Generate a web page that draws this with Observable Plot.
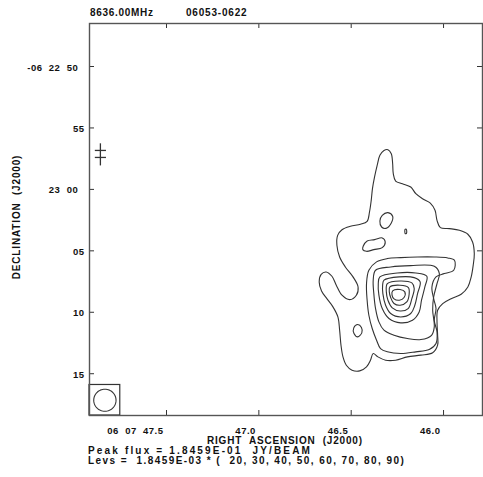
<!DOCTYPE html>
<html><head><meta charset="utf-8">
<script src="https://cdn.jsdelivr.net/npm/d3@7"></script>
<script src="https://cdn.jsdelivr.net/npm/@observablehq/plot@0.6"></script>
<style>
html,body{margin:0;padding:0;background:#fff;}
#wrap{position:relative;width:483px;height:477px;overflow:hidden;font-family:"Liberation Sans",Arial,sans-serif;font-weight:bold;color:#111;}
#wrap svg{position:absolute;left:0;top:0;}
.t{position:absolute;white-space:pre;font-size:10px;line-height:10px;}
</style></head><body><div id="wrap"></div>
<script>
// ---------------- data ----------------
const frequency = "8636.00MHz";
const source = "06053-0622";
const raTicks = [47.5, 47.0, 46.5, 46.0];                 // seconds of 06h 07m
const raTickLabels = ["06  07  47.5", "47.0", "46.5", "46.0"];
const decTicks = [50, 55, 60, 65, 70, 75];                // arcsec south of -06 22 00
const decTickLabels = ["-06  22  50\u00a0\u00a0", "55", "23  00\u00a0\u00a0", "05", "10", "15"];
const raRange = [47.917, 45.789];
const decRange = [46.5, 78.4];
const peakRA = 46.25;       // 06 07 46.25
const peakDec = 68.56;      // -06 23 08.56
const peakFlux = 1.8459E-01;
const levBase = 1.8459E-03;
const levels = [20, 30, 40, 50, 60, 70, 80, 90];
const beamFWHM = 1.8;       // arcsec
const starRA = 47.858, starDec = 57.15;

// contour rings: [east offset, north offset] in arcsec from the peak
const lev20_outer = [[0.76,11.79],[0.49,11.46],[0.38,10.65],[0.33,9.84],[0.14,9.24],[-0.41,9.02],[-1.08,8.75],[-1.49,8.21],[-2.03,7.80],[-2.66,7.45],[-3.04,6.86],[-3.20,6.04],[-3.47,5.45],[-4.20,5.37],[-5.01,5.23],[-5.69,4.91],[-6.07,4.28],[-6.21,3.33],[-6.12,2.38],[-5.96,1.44],[-5.69,0.62],[-5.15,0.03],[-4.34,-0.33],[-3.66,-0.73],[-3.25,-1.27],[-3.20,-2.22],[-3.25,-3.31],[-3.25,-4.12],[-2.85,-4.74],[-1.90,-4.93],[-0.81,-5.07],[0.14,-5.34],[0.95,-5.34],[1.57,-5.07],[1.95,-4.80],[2.17,-5.34],[2.49,-5.88],[3.04,-6.21],[3.66,-6.15],[4.12,-5.75],[4.39,-5.07],[4.55,-4.12],[4.66,-2.90],[4.80,-1.82],[5.20,-1.00],[5.69,-0.33],[6.12,0.30],[6.31,1.03],[6.15,1.65],[5.75,1.84],[5.28,1.49],[4.93,0.76],[4.47,-0.05],[3.85,-0.41],[3.31,-0.05],[3.17,0.62],[3.58,1.44],[4.20,2.25],[4.66,3.06],[4.88,4.01],[4.82,4.82],[4.47,5.28],[3.79,5.56],[2.98,5.72],[2.44,5.96],[2.25,6.72],[2.11,7.67],[2.01,8.62],[1.84,9.57],[1.63,10.51],[1.41,11.33],[1.08,11.73]];
const lev20_blobA = [[1.22,6.45],[0.76,6.67],[0.38,6.37],[0.49,5.83],[0.92,5.39],[1.27,5.50],[1.41,5.99]];
const lev20_dot = [[-0.62,5.30],[-0.72,5.30],[-0.74,5.00],[-0.64,4.95]];
const lev20_blobB = [[2.76,3.93],[2.44,4.36],[1.84,4.47],[1.22,4.61],[0.98,4.28],[1.22,3.82],[1.90,3.66],[2.49,3.52],[2.79,3.66]];
const lev20_blobC = [[3.20,-2.44],[2.90,-2.68],[2.87,-3.12],[3.20,-3.44],[3.50,-3.17],[3.52,-2.71]];
const lev30 = [[1.68,2.66],[0.81,2.93],[-0.27,3.01],[-1.63,3.06],[-2.98,3.06],[-4.07,2.98],[-4.61,2.79],[-4.55,1.98],[-3.79,1.71],[-3.12,1.44],[-2.79,0.62],[-2.93,-0.33],[-3.12,-1.14],[-2.98,-2.09],[-3.20,-3.04],[-3.12,-3.98],[-2.57,-4.47],[-1.49,-4.66],[-0.27,-4.80],[0.81,-4.66],[1.36,-4.39],[1.68,-3.71],[2.03,-2.76],[2.30,-1.68],[2.44,-0.46],[2.49,0.89],[2.30,1.98]];
const lev40 = [[1.76,1.98],[0.54,2.25],[-1.08,2.36],[-2.98,2.30],[-3.39,1.71],[-3.20,0.89],[-2.93,-0.19],[-2.85,-1.27],[-2.98,-2.63],[-2.76,-3.31],[-1.90,-3.66],[-0.81,-3.58],[0.27,-3.31],[1.08,-2.90],[1.49,-2.22],[1.76,-1.14],[1.90,0.08],[1.95,1.17]];
const lev50 = [[1.41,1.44],[0,1.76],[-1.49,1.76],[-2.38,1.49],[-2.22,0.62],[-1.95,-0.46],[-1.76,-1.41],[-1.22,-2.09],[-0.27,-2.30],[0.68,-1.95],[1.22,-1.14],[1.49,-0.05],[1.54,0.89]];
const lev60 = [[1.08,1.17],[-0.14,1.44],[-1.36,1.38],[-1.84,1.03],[-1.63,0.08],[-1.41,-0.87],[-1.08,-1.54],[-0.27,-1.82],[0.54,-1.54],[0.95,-0.87],[1.17,0.08],[1.19,0.76]];
const lev70 = [[0.81,0.89],[-0.22,1.11],[-1.17,0.95],[-1.36,0.49],[-1.17,-0.33],[-0.87,-1.14],[-0.22,-1.33],[0.41,-1.08],[0.76,-0.46],[0.89,0.22]];
const lev80 = [[0.60,0.62],[-0.22,0.76],[-0.89,0.57],[-0.95,0.03],[-0.76,-0.60],[-0.22,-0.87],[0.27,-0.73],[0.54,-0.24],[0.65,0.22]];
const lev90 = [[0.38,0.30],[-0.22,0.41],[-0.60,0.22],[-0.54,-0.24],[-0.16,-0.46],[0.27,-0.35],[0.43,-0.05]];

// ---------------- build ----------------
const k = 15 * Math.cos((6 + 23/60 + peakDec/3600) * Math.PI / 180); // arcsec per RA second
const rings = [
  [20, lev20_outer], [20, lev20_blobA], [20, lev20_dot], [20, lev20_blobB], [20, lev20_blobC],
  [30, lev30], [40, lev40], [50, lev50], [60, lev60], [70, lev70], [80, lev80], [90, lev90]
];
const rows = [];
rings.forEach(([lev, pts], i) => pts.forEach(([e, n]) =>
  rows.push({ring: i, level: lev, ra: peakRA + e / k, dec: peakDec - n})));

// beam in lower-left box
const boxHalf = beamFWHM * 0.69;
const bx = raRange[0] - boxHalf / k, by = decRange[1] - boxHalf;
const beamPts = d3.range(0, 361, 6).map(a => ({
  ra: bx - (beamFWHM / 2) * Math.cos(a * Math.PI / 180) / k,
  dec: by - (beamFWHM / 2) * Math.sin(a * Math.PI / 180)
}));

// star marker
const sv = 0.9, sb = 0.45;
const starLinks = [
  {x1: starRA, x2: starRA, y1: starDec - sv, y2: starDec + sv},
  {x1: starRA + sb / k, x2: starRA - sb / k, y1: starDec - 0.32, y2: starDec - 0.32},
  {x1: starRA + sb / k, x2: starRA - sb / k, y1: starDec + 0.25, y2: starDec + 0.25}
];

const W = 483, H = 477, mL = 89, mR = 1, mT = 23, mB = 62;
const FW = W - mL - mR, FH = H - mT - mB;
const ink = "#333";

const chart = Plot.plot({
  width: W, height: H,
  marginLeft: mL, marginRight: mR, marginTop: mT, marginBottom: mB,
  x: {domain: raRange, axis: null},
  y: {domain: [decRange[1], decRange[0]], axis: null},
  style: {fontFamily: "Liberation Sans, Arial, sans-serif", fontSize: "9.5px", fontWeight: "bold", letterSpacing: "0.5px", color: "#111", background: "white"},
  marks: [
    Plot.line(rows, {x: "ra", y: "dec", z: "ring", curve: "catmull-rom-closed", stroke: ink, strokeWidth: 1.1}),
    Plot.rect([0], {x1: () => raRange[0], x2: () => raRange[0] - 2 * boxHalf / k, y1: () => decRange[1], y2: () => decRange[1] - 2 * boxHalf, stroke: ink, strokeWidth: 1.2, fill: "none"}),
    Plot.line(beamPts, {x: "ra", y: "dec", stroke: ink, strokeWidth: 1.1}),
    Plot.link(starLinks, {x1: "x1", x2: "x2", y1: "y1", y2: "y2", stroke: ink, strokeWidth: 1.3}),
    // inward ticks on all four sides
    Plot.tickX(raTicks, {x: d => d, insetBottom: FH - 5, stroke: ink}),
    Plot.tickX(raTicks, {x: d => d, insetTop: FH - 5, stroke: ink}),
    Plot.tickY(decTicks, {y: d => d, insetRight: FW - 5, stroke: ink}),
    Plot.tickY(decTicks, {y: d => d, insetLeft: FW - 5, stroke: ink}),
    Plot.text(raTicks, {x: d => d, frameAnchor: "bottom", lineAnchor: "middle", text: (d, i) => raTickLabels[i], textAnchor: "end", dx: -3, dy: 15, fill: "#111"}),
    Plot.text(decTicks, {y: d => d, frameAnchor: "left", lineAnchor: "middle", text: (d, i) => decTickLabels[i], textAnchor: "end", dx: -5, dy: 1, fill: "#111"}),
    Plot.frame({stroke: "#555", strokeWidth: 1.4})
  ]
});

const wrap = document.getElementById("wrap");
wrap.appendChild(chart);

function fmtE(v) {
  const [m, e] = v.toExponential(4).split("e");
  return m + "E" + (e[0] === "-" ? "-" : "+") + String(Math.abs(+e)).padStart(2, "0");
}
function addText(str, left, cy, target, opts = {}) {
  const el = document.createElement("div");
  el.className = "t";
  el.textContent = str;
  wrap.appendChild(el);
  const w = el.offsetWidth;
  const ls = (target - w) / str.length;
  el.style.letterSpacing = ls + "px";
  const w2 = el.offsetWidth;
  if (opts.rotate) {
    el.style.left = (left - w2 / 2) + "px";
    el.style.top = (cy - 5) + "px";
    el.style.transform = "rotate(-90deg)";
  } else if (opts.center) {
    el.style.left = (left - w2 / 2) + "px";
    el.style.top = (cy - 6) + "px";
  } else {
    el.style.left = left + "px";
    el.style.top = (cy - 6) + "px";
  }
  return el;
}
addText(frequency, 90, 14, 64);
addText(source, 186, 14, 61);
addText("DECLINATION  (J2000)", 17, 217, 125, {rotate: true});
addText("RIGHT  ASCENSION  (J2000)", 285, 442, 156, {center: true});
addText("Peak flux = " + fmtE(peakFlux) + "  JY/BEAM", 88, 452, 224);
addText("Levs =  " + fmtE(levBase) + " * (  " + levels.join(", ") + ")", 88, 462, 317);
</script></body></html>
